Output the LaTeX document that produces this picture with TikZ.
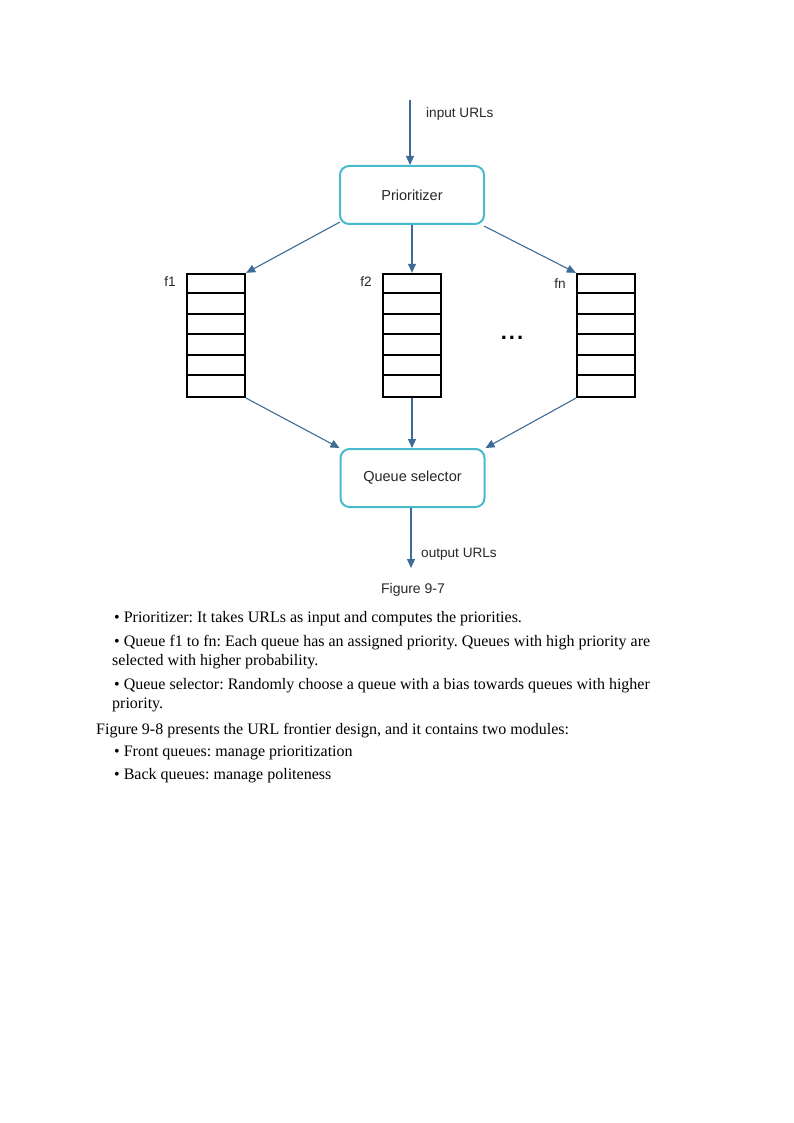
\documentclass[tikz,border=0pt]{standalone}
\usepackage{fontspec}
\setmainfont{Liberation Serif}
\newfontfamily\diagfont{Liberation Sans}
\usetikzlibrary{arrows.meta,calc}
\definecolor{boxcyan}{RGB}{72,186,206}
\definecolor{arrblue}{RGB}{62,108,150}
\definecolor{txtgray}{RGB}{40,40,40}
\tikzset{
  procbox/.style={draw=boxcyan, line width=2pt, rounded corners=9pt, minimum width=144pt, minimum height=58pt, inner sep=0pt, font=\diagfont\fontsize{14.5}{16}\selectfont, text=txtgray},
  queuebox/.style={draw=black, line width=2.3pt, minimum width=58pt, minimum height=123pt, inner sep=0pt},
  arr/.style={draw=arrblue, line width=1.1pt, -{Triangle[length=9pt,width=8pt]}},
  dlabel/.style={font=\diagfont\fontsize{13.6}{15}\selectfont, text=txtgray, inner sep=0pt},
  body/.style={font=\frenchspacing\fontsize{16}{18}\selectfont, anchor=base west, inner sep=0pt, text=black}
}
\begin{document}
\begin{tikzpicture}[x=1pt,y=-1pt]
\useasboundingbox (0,0) rectangle (794,1123);
\fill[white] (0,0) rectangle (794,1123);

% boxes
\node[procbox] (prio) at (412,195) {Prioritizer};
\node[procbox] (qs) at (412.5,478) {Queue selector};

% queues
\foreach \n/\x in {q1/216, q2/412, q3/606}{
  \node[queuebox] (\n) at (\x,335.5) {};
  \foreach \k in {1,...,5}{
    \draw[line width=2.1pt] ($(\n.north west)+(0,\k*20.5)$) -- ($(\n.north east)+(0,\k*20.5)$);
  }
}
\node[dlabel, anchor=base east] (lf1) at ($(q1.north west)+(-10,14)$) {f1};
\node[dlabel, anchor=base east] (lf2) at ($(q2.north west)+(-10,14)$) {f2};
\node[dlabel, anchor=base east] (lfn) at ($(q3.north west)+(-10,16)$) {fn};
\node[font=\diagfont\bfseries\fontsize{22}{22}\selectfont, inner sep=0pt] (dots) at (512,338) {.\kern2pt.\kern2pt.};

% input / output
\coordinate (in) at (410,100);
\coordinate (out) at (411,568);
\draw[arr] (in) -- (prio.north -| in);
\node[dlabel, anchor=base west] (inlbl) at (426,118) {input URLs};
\draw[arr] (qs.south -| out) -- (out);
\node[dlabel, anchor=base west] (outlbl) at (421,557) {output URLs};

% prioritizer to queues
\draw[arr] ($(prio.south west)+(1,-3)$) -- (q1.north east);
\draw[arr] (prio.south -| q2.north) -- (q2.north);
\draw[arr] ($(prio.south east)+(-1,1)$) -- (q3.north west);

% queues to selector
\draw[arr] (q1.south east) -- (qs.north west);
\draw[arr] (q2.south) -- (qs.north -| q2.south);
\draw[arr] (q3.south west) -- (qs.north east);

% caption
\node[font=\diagfont\fontsize{14}{16}\selectfont, text=txtgray, inner sep=0pt] (cap) at (413,590) {Figure 9-7};

% body text
\node[body] (t1) at (114,622) {\textbullet\ Prioritizer: It takes URLs as input and computes the priorities.};
\node[body] (t2) at (114,646) {\textbullet\ Queue f1 to fn: Each queue has an assigned priority. Queues with high priority are};
\node[body] (t3) at (112,665) {selected with higher probability.};
\node[body] (t4) at (114,689) {\textbullet\ Queue selector: Randomly choose a queue with a bias towards queues with higher};
\node[body] (t5) at (112,708) {priority.};
\node[body] (t6) at (96,734) {Figure 9-8 presents the URL frontier design, and it contains two modules:};
\node[body] (t7) at (114,756) {\textbullet\ Front queues: manage prioritization};
\node[body] (t8) at (114,779) {\textbullet\ Back queues: manage politeness};
\end{tikzpicture}
\end{document}
